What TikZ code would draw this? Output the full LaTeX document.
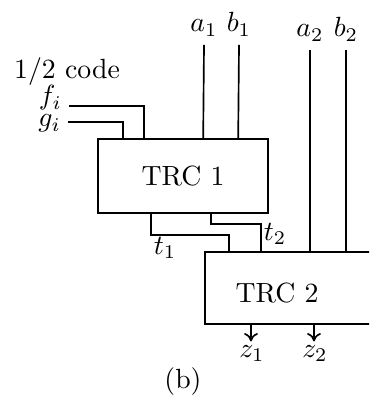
\documentclass[tikz,border=0pt]{standalone}
\usepackage{amsmath, amssymb}
\usepackage{tikz}
\usetikzlibrary{calc, positioning, arrows.meta}

\begin{document}
\begin{tikzpicture}[x=0.36pt, y=-0.36pt, line width=0.6pt,
    trcbox/.style={draw, rectangle, inner sep=0pt},
    sig/.style={inner sep=0.5pt, anchor=base east},
    outarrow/.style={-{To[length=3pt, width=5pt]}}]
  \useasboundingbox (0,0) rectangle (369,413);
  \clip (0,0) rectangle (369,413);

  % The two blocks (TRC 2 runs off the right edge)
  \node[trcbox, minimum width=61.2pt, minimum height=26.64pt] (trc1) at (183,176) {TRC 1};
  \node[trcbox, minimum width=72pt, minimum height=25.92pt, anchor=north west] (trc2) at (204,251) {};
  \node (trc2txt) at (277,293) {TRC 2};

  % Code inputs
  \node (code) at (67,72) {1/2 code};
  \node[sig] (fi) at (64,105) {$f_i$};
  \node[sig] (gi) at (63,127) {$g_i$};
  \draw ($(fi.base east)+(5,1)$) -| ($(trc1.north west)+(47,0)$);
  \draw ($(gi.base east)+(5,-5)$) -| ($(trc1.north west)+(26,0)$);

  % Channel inputs
  \node[anchor=base] (a1) at (204,32) {$a_1$};
  \node[anchor=base] (b1) at (239,32) {$b_1$};
  \node[anchor=base] (a2) at (310,37) {$a_2$};
  \node[anchor=base] (b2) at (346,37) {$b_2$};
  \draw ($(a1.base)+(0,13)$) -- ($(trc1.north west)+(106,0)$);
  \draw ($(b1.base)+(0,13)$) -- ($(trc1.north west)+(141,0)$);
  \draw ($(a2.base)+(0,13)$) -- ($(trc2.north west)+(106,0)$);
  \draw ($(b2.base)+(0,13)$) -- ($(trc2.north west)+(142,0)$);

  % Links from TRC 1 to TRC 2
  \draw ($(trc1.south west)+(54,0)$) -- ++(0,21) -| ($(trc2.north west)+(25,0)$);
  \draw ($(trc1.south west)+(114,0)$) -- ++(0,10) -| ($(trc2.north west)+(57,0)$);
  \node (t1) at (165,248) {$t_1$};
  \node (t2) at (275,234) {$t_2$};

  % Outputs
  \coordinate (z1pin) at ($(trc2.south west)+(47,0)$);
  \coordinate (z2pin) at ($(trc2.south west)+(110,0)$);
  \node[anchor=base, inner sep=1pt] (z1) at (252,357) {$z_1$};
  \node[anchor=base, inner sep=1pt] (z2) at (315,357) {$z_2$};
  \draw[outarrow] (z1pin) -- (z1pin |- z1.north);
  \draw[outarrow] (z2pin) -- (z2pin |- z2.north);

  \node (caption) at (183,382) {(b)};
\end{tikzpicture}
\end{document}
